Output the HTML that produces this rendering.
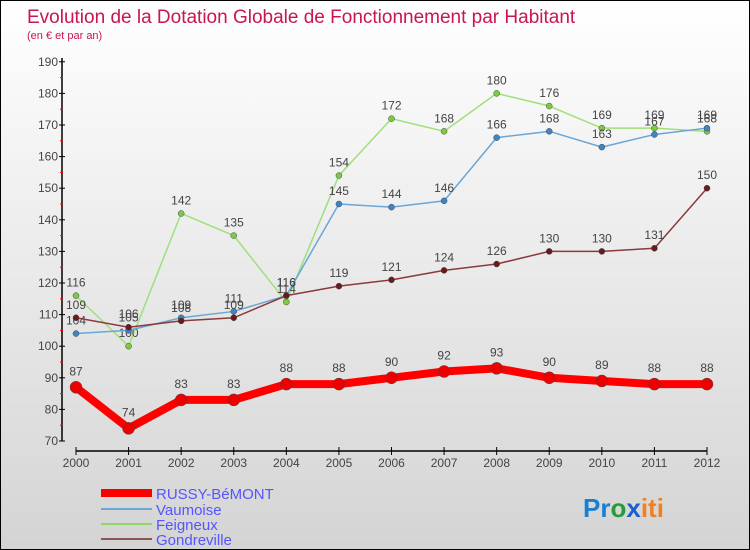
<!DOCTYPE html>
<html><head><meta charset="utf-8"><style>
body{margin:0}
#c{width:748px;height:548px;border:1px solid #000;background:linear-gradient(#fff,#d4d4d4);position:relative;font-family:"Liberation Sans",sans-serif;overflow:hidden}
</style></head><body>
<div id="c">
<svg id="s" width="748" height="548">
<text x="26" y="22" font-size="19" fill="#c8164e">Evolution de la Dotation Globale de Fonctionnement par Habitant</text>
<text x="26" y="38" font-size="11" fill="#c8164e">(en € et par an)</text>
<g id="axes"></g><g id="series"></g>
<g>
<line x1="100" y1="492" x2="151" y2="492" stroke="#f00" stroke-width="8"/>
<text x="155" y="498" font-size="15" fill="#55f">RUSSY-BéMONT</text>
<line x1="100" y1="508" x2="151" y2="508" stroke="#6aa6d6" stroke-width="2"/>
<text x="155" y="514" font-size="15" fill="#55f">Vaumoise</text>
<line x1="100" y1="523" x2="151" y2="523" stroke="#8ed86a" stroke-width="2"/>
<text x="155" y="529" font-size="15" fill="#55f">Feigneux</text>
<line x1="100" y1="538" x2="151" y2="538" stroke="#8a5555" stroke-width="2"/>
<text x="155" y="544" font-size="15" fill="#55f">Gondreville</text>
</g>
<text x="582" y="516" font-size="26" font-weight="bold"><tspan fill="#1a7fd0">Pr</tspan><tspan fill="#2a9a3a">o</tspan><tspan fill="#1a5fd0">x</tspan><tspan fill="#f08020">iti</tspan></text>
</svg></div>
<script>
const years=[2000,2001,2002,2003,2004,2005,2006,2007,2008,2009,2010,2011,2012];
const yTicks=[70,80,90,100,110,120,130,140,150,160,170,180,190];
const russy=[87,74,83,83,88,88,90,92,93,90,89,88,88];
const vaumoise=[104,105,109,111,116,145,144,146,166,168,163,167,169];
const feigneux=[116,100,142,135,114,154,172,168,180,176,169,169,168];
const gondreville=[109,106,108,109,116,119,121,124,126,130,130,131,150];
const NS="http://www.w3.org/2000/svg";
const X=i=>75+i*(631/12);
const Y=v=>440-(v-70)*3.16;
function mk(t,a,p){const e=document.createElementNS(NS,t);for(const k in a)e.setAttribute(k,a[k]);p.appendChild(e);return e;}
const ax=document.getElementById('axes');
let l=mk('line',{x1:61,y1:57,x2:61,y2:440,stroke:'#000','stroke-width':1.5},ax);


l=mk('line',{x1:75,y1:450,x2:706,y2:450,stroke:'#000','stroke-width':1.5},ax);


yTicks.forEach(v=>{
 mk('line',{x1:58,y1:Y(v),x2:64,y2:Y(v),stroke:'#000'},ax);
 if(v<190) mk('line',{x1:59,y1:Y(v+5),x2:62,y2:Y(v+5),stroke:'#f00'},ax);
 const t=mk('text',{x:57,y:Y(v)+4,'font-size':12,'text-anchor':'end',fill:'#444'},ax);t.textContent=v;
 
 
});
years.forEach((yr,i)=>{
 mk('line',{x1:X(i),y1:446,x2:X(i),y2:454,stroke:'#000'},ax);
 const t=mk('text',{x:X(i),y:466,'font-size':12,'text-anchor':'middle',fill:'#444'},ax);t.textContent=yr;
 
 
});
const sg=document.getElementById('series');
function series(vals,color,dot,w,r,name){
 const g=mk('g',{},sg);
 
 
 const p=mk('polyline',{points:vals.map((v,i)=>X(i)+','+Y(v)).join(' '),fill:'none',stroke:color,'stroke-width':w,'stroke-linejoin':'round'},g);
 
 
 vals.forEach((v,i)=>{
  const c=mk('circle',{cx:X(i),cy:Y(v),r:r,fill:dot,stroke:'#444','stroke-width':0.5},g);
  
  
  const t=mk('text',{x:X(i),y:Y(v)-(r+6),'font-size':12,'text-anchor':'middle',fill:'#444'},g);t.textContent=v;
  
  
 });
}
series(feigneux,'#9ee07a','#7ccc40',1.5,3,'feigneux');
series(vaumoise,'#6aa6d6','#3a86c6',1.5,3,'vaumoise');
series(gondreville,'#8a3a3a','#6a1a1a',1.5,3,'gondreville');
series(russy,'#f00','#e00',8,6,'russy');
</script>
</body></html>
